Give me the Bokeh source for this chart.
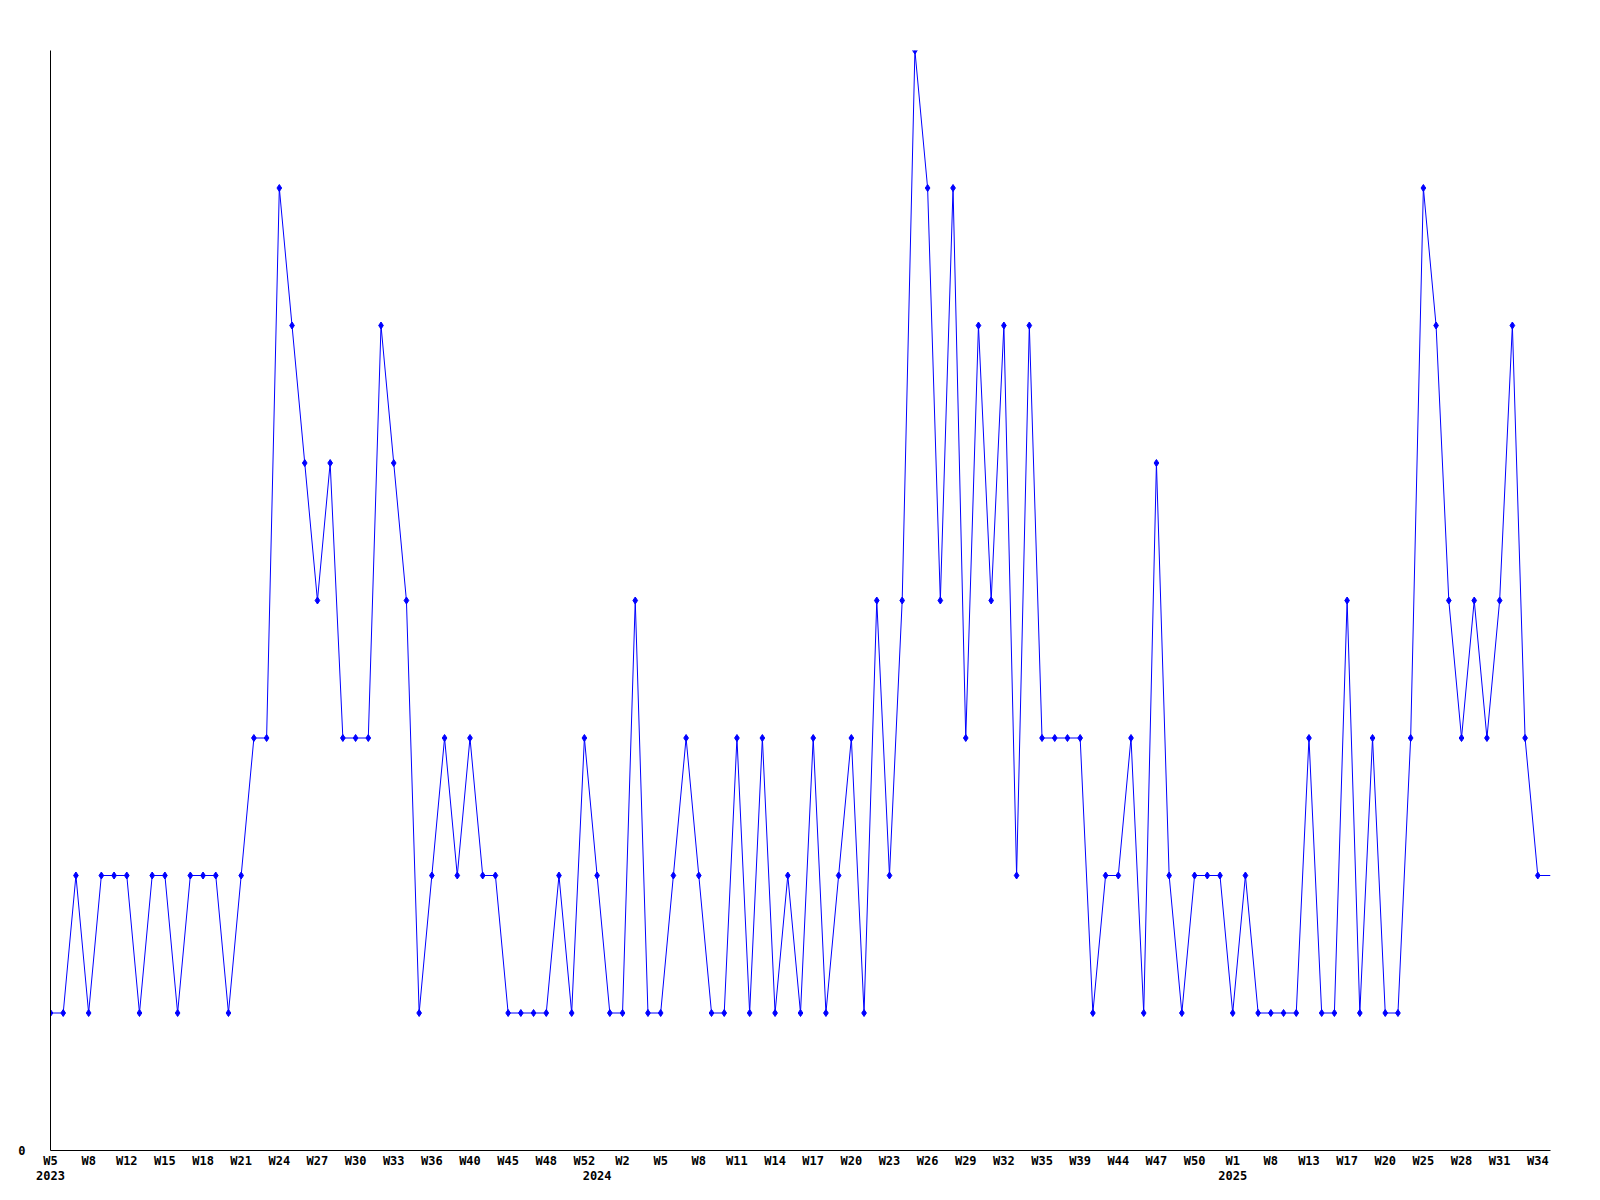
from bokeh.plotting import figure
from bokeh.models import Range1d, FixedTicker, LinearAxis, ColumnDataSource
from bokeh.embed import file_html
from bokeh.resources import INLINE

# Weekly counts (one value per week shown on the chart)
counts = [1, 1, 2, 1, 2, 2, 2, 1, 2, 2,
          1, 2, 2, 2, 1, 2, 3, 3, 7, 6,
          5, 4, 5, 3, 3, 3, 6, 5, 4, 1,
          2, 3, 2, 3, 2, 2, 1, 1, 1, 1,
          2, 1, 3, 2, 1, 1, 4, 1, 1, 2,
          3, 2, 1, 1, 3, 1, 3, 1, 2, 1,
          3, 1, 2, 3, 1, 4, 2, 4, 8, 7,
          4, 7, 3, 6, 4, 6, 2, 6, 3, 3,
          3, 3, 1, 2, 2, 3, 1, 5, 2, 1,
          2, 2, 2, 1, 2, 1, 1, 1, 1, 3,
          1, 1, 4, 1, 3, 1, 1, 3, 7, 6,
          4, 3, 4, 3, 4, 6, 3, 2]
# current (partial) week, drawn as line only
current = [2]

week_tick_labels = ["W5", "W8", "W12", "W15", "W18", "W21", "W24", "W27", "W30", "W33",
                    "W36", "W40", "W45", "W48", "W52", "W2", "W5", "W8", "W11", "W14",
                    "W17", "W20", "W23", "W26", "W29", "W32", "W35", "W39", "W44", "W47",
                    "W50", "W1", "W8", "W13", "W17", "W20", "W25", "W28", "W31", "W34"]
week_tick_index = [3 * i for i in range(len(week_tick_labels))]
year_labels = ["2023", "2024", "2025"]
year_index = [0, 43, 93]

n = len(counts)
line_y = counts + current
line_x = list(range(len(line_y)))
src_line = ColumnDataSource(dict(x=line_x, y=line_y))
src_pts = ColumnDataSource(dict(x=list(range(n)), y=counts))

FONT = "DejaVu Sans Mono"

p = figure(width=1592, height=1192, output_backend="svg", toolbar_location=None,
           x_range=Range1d(0, n), y_range=Range1d(0, 8),
           min_border_left=50, min_border_top=50, min_border_right=42, min_border_bottom=42,
           x_axis_location=None, y_axis_location=None)
p.outline_line_color = None
p.xgrid.visible = False
p.ygrid.visible = False
p.background_fill_color = "white"
p.border_fill_color = "white"

p.line("x", "y", source=src_line, line_color="#0000FF", line_width=1)
p.scatter("x", "y", source=src_pts, marker="diamond", size=7,
          fill_color="#0000FF", line_color="#0000FF")


def style(ax, standoff):
    ax.major_tick_out = 0
    ax.major_tick_in = 0
    ax.minor_tick_out = 0
    ax.minor_tick_in = 0
    ax.major_label_standoff = standoff
    ax.major_label_text_font = FONT
    ax.major_label_text_font_style = "bold"
    ax.major_label_text_font_size = "12px"
    ax.major_label_text_color = "black"


# y axis: only "0"
ya = LinearAxis(ticker=FixedTicker(ticks=[0]))
ya.axis_line_color = "black"
ya.axis_line_width = 1
style(ya, 25)
p.add_layout(ya, "left")

# x axis: week labels
xa = LinearAxis(ticker=FixedTicker(ticks=week_tick_index),
                major_label_overrides={i: l for i, l in zip(week_tick_index, week_tick_labels)})
xa.axis_line_color = "black"
xa.axis_line_width = 1
style(xa, 3)
p.add_layout(xa, "below")

# second x axis: year labels
xa2 = LinearAxis(ticker=FixedTicker(ticks=year_index),
                 major_label_overrides={i: l for i, l in zip(year_index, year_labels)})
xa2.axis_line_color = None
style(xa2, 0)
p.add_layout(xa2, "below")

open("out.html", "w").write(file_html(p, INLINE))
